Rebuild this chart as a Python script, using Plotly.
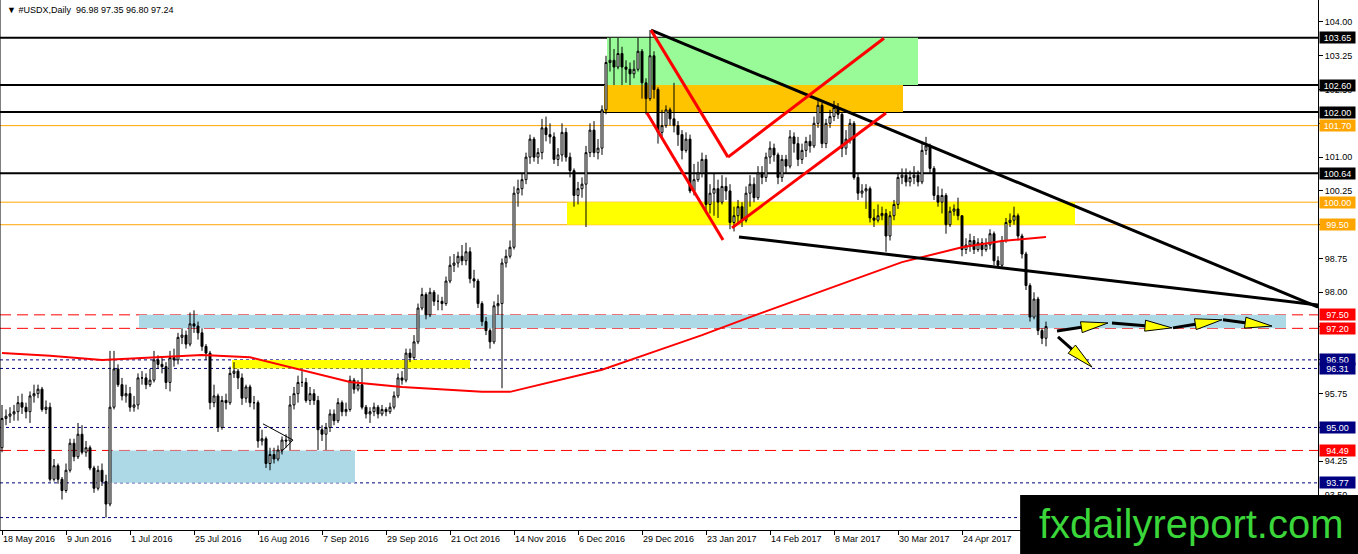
import plotly.graph_objects as go

# daily bars from 18 May 2016; the open of each bar is the previous close
first_open = 94.55
closes = [
    95.20, 95.25, 95.30, 95.35, 95.55, 95.45, 95.35, 95.70, 95.75, 95.85,
    95.40, 95.45, 93.85, 94.15, 93.85, 93.60, 94.05, 94.65, 94.35, 94.85,
    94.45, 94.55, 94.10, 93.65, 94.05, 93.80, 93.30, 95.45, 96.30, 95.95,
    95.70, 95.75, 95.45, 95.50, 96.10, 96.10, 95.95, 96.05, 96.50, 96.40,
    96.35, 96.00, 96.55, 96.50, 97.00, 97.05, 96.85, 97.30, 97.25, 97.10,
    96.80, 96.65, 95.55, 95.70, 95.00, 95.60, 95.55, 96.20, 96.25, 96.10,
    95.65, 95.90, 95.55, 95.55, 94.70, 94.75, 94.20, 94.40, 94.30, 94.50,
    94.72, 94.70, 95.50, 95.75, 96.00, 96.00, 95.60, 95.75, 95.60, 94.95,
    94.85, 95.00, 95.30, 95.15, 95.55, 95.35, 95.40, 96.05, 95.85, 95.95,
    95.45, 95.30, 95.35, 95.45, 95.30, 95.40, 95.35, 95.45, 95.70, 96.10,
    96.05, 96.65, 96.55, 96.90, 97.65, 97.95, 97.50, 98.00, 97.80, 97.80,
    97.75, 98.25, 98.60, 98.65, 98.80, 98.70, 98.90, 98.30, 98.25, 97.75,
    97.35, 97.15, 96.90, 97.70, 97.75, 98.65, 98.80, 99.00, 100.20, 100.30,
    100.50, 101.00, 101.40, 101.00, 101.10, 101.65, 101.50, 101.45, 100.95, 101.05,
    101.55, 101.00, 100.70, 100.15, 100.30, 100.40, 101.10, 101.60, 101.10, 101.20,
    102.05, 103.10, 103.15, 103.00, 103.30, 103.00, 102.95, 102.85, 102.95, 103.35,
    102.65, 102.30, 103.25, 102.50, 101.55, 101.70, 102.05, 101.85, 101.70, 101.50,
    101.15, 101.40, 100.25, 100.50, 100.65, 100.95, 99.95, 100.20, 100.30, 100.00,
    100.35, 100.25, 99.55, 99.70, 99.90, 99.60, 100.20, 100.40, 100.10, 100.65,
    100.55, 101.00, 101.20, 101.05, 100.55, 100.95, 100.80, 101.45, 101.30, 100.95,
    101.15, 101.35, 101.25, 101.75, 102.15, 101.30, 101.75, 101.90, 102.10, 101.95,
    101.20, 101.40, 101.75, 100.55, 100.20, 100.25, 100.30, 99.65, 99.60, 99.70,
    99.75, 99.25, 99.70, 99.95, 100.55, 100.60, 100.45, 100.55, 100.60, 100.45,
    101.15, 101.25, 100.75, 100.15, 100.00, 100.15, 99.50, 99.80, 99.85, 99.70,
    98.95, 99.05, 99.15, 98.95, 99.10, 98.95, 99.05, 99.30, 98.70, 98.60,
    99.15, 99.55, 99.60, 99.70, 99.25, 98.85, 98.15, 97.45, 97.85, 97.15,
    96.98, 97.24,
]
highs = [
    95.50, 95.40, 95.45, 95.50, 95.70, 95.75, 95.55, 95.80, 95.95, 95.95,
    95.90, 95.60, 95.55, 94.30, 94.20, 93.90, 94.20, 94.75, 94.75, 95.10,
    95.05, 94.70, 94.60, 94.15, 94.15, 94.20, 93.95, 96.70, 96.70, 96.40,
    96.10, 95.95, 95.90, 95.70, 96.20, 96.25, 96.20, 96.30, 96.70, 96.60,
    96.55, 96.45, 96.70, 96.75, 97.10, 97.20, 97.15, 97.55, 97.60, 97.35,
    97.20, 96.85, 96.70, 95.95, 95.75, 95.70, 95.75, 96.35, 96.45, 96.30,
    96.20, 95.95, 95.95, 95.70, 95.60, 94.95, 94.80, 94.55, 94.55, 94.60,
    94.80, 94.85, 95.70, 95.90, 96.15, 96.25, 96.10, 95.90, 95.85, 95.70,
    95.05, 95.10, 95.40, 95.40, 95.65, 95.60, 95.55, 96.15, 96.10, 96.05,
    96.30, 95.50, 95.45, 95.55, 95.50, 95.50, 95.45, 95.55, 95.80, 96.20,
    96.25, 96.75, 96.75, 97.05, 97.75, 98.10, 98.00, 98.10, 98.05, 97.95,
    97.90, 98.35, 98.80, 98.85, 98.90, 99.05, 99.10, 99.00, 98.50, 98.30,
    97.80, 97.45, 97.20, 97.80, 97.95, 98.75, 98.95, 99.15, 100.35, 100.50,
    100.65, 101.10, 101.50, 101.45, 101.20, 101.85, 101.90, 101.75, 101.55, 101.20,
    101.75, 101.65, 101.10, 100.75, 100.45, 100.55, 101.25, 101.75, 101.80, 101.40,
    102.15, 103.25, 103.65, 103.40, 103.65, 103.45, 103.15, 103.10, 103.15, 103.65,
    103.40, 102.75, 103.82, 103.35, 102.55, 102.05, 102.15, 102.10, 102.65, 101.80,
    101.60, 101.55, 101.50, 100.85, 100.90, 101.10, 101.05, 100.40, 100.65, 100.50,
    100.60, 100.55, 100.40, 99.90, 100.05, 100.00, 100.35, 100.60, 100.55, 100.80,
    100.80, 101.10, 101.35, 101.30, 101.10, 101.05, 101.05, 101.60, 101.55, 101.45,
    101.30, 101.45, 101.50, 101.90, 102.25, 102.20, 101.85, 102.05, 102.25, 102.20,
    102.00, 101.60, 101.85, 101.80, 100.65, 100.40, 100.40, 100.35, 99.85, 99.95,
    99.90, 99.85, 99.80, 100.05, 100.65, 100.75, 100.75, 100.70, 100.80, 100.70,
    101.30, 101.45, 101.30, 100.80, 100.35, 100.30, 100.20, 99.90, 99.95, 100.10,
    99.70, 99.20, 99.30, 99.25, 99.20, 99.20, 99.20, 99.40, 99.35, 98.80,
    99.25, 99.65, 99.75, 99.90, 99.75, 99.30, 98.90, 98.20, 98.00, 97.90,
    97.20, 97.35,
]
lows = [
    94.45, 95.05, 95.10, 95.15, 95.15, 95.30, 95.20, 95.10, 95.55, 95.65,
    95.35, 95.30, 93.80, 93.80, 93.75, 93.40, 93.55, 94.00, 94.25, 94.30,
    94.40, 94.35, 94.05, 93.55, 93.60, 93.70, 93.00, 93.25, 95.40, 95.90,
    95.60, 95.55, 95.35, 95.35, 95.40, 95.95, 95.85, 95.90, 96.00, 96.30,
    96.20, 95.85, 95.80, 96.35, 96.40, 96.85, 96.75, 96.80, 97.10, 96.95,
    96.70, 96.50, 95.40, 95.45, 94.90, 94.95, 95.40, 95.50, 96.10, 95.85,
    95.50, 95.55, 95.45, 95.40, 94.55, 94.60, 94.10, 94.05, 94.20, 94.25,
    94.40, 94.55, 94.50, 95.40, 95.55, 95.90, 95.55, 95.50, 95.50, 94.50,
    94.70, 94.50, 94.90, 95.05, 95.10, 95.25, 95.25, 95.35, 95.75, 95.80,
    95.40, 95.20, 95.10, 95.25, 95.20, 95.25, 95.25, 95.30, 95.40, 95.65,
    95.95, 96.00, 96.45, 96.50, 96.85, 97.60, 97.40, 97.45, 97.70, 97.60,
    97.60, 97.70, 98.20, 98.45, 98.55, 98.60, 98.60, 98.20, 98.10, 97.65,
    97.25, 97.05, 96.75, 96.85, 97.50, 95.87, 98.55, 98.75, 98.95, 99.90,
    100.15, 100.40, 100.85, 100.90, 100.85, 100.95, 101.35, 101.30, 100.85, 100.80,
    100.90, 100.90, 100.55, 99.90, 99.95, 100.10, 99.45, 101.00, 101.00, 100.95,
    101.05, 101.95, 102.90, 102.60, 102.95, 102.60, 102.65, 102.60, 102.75, 102.90,
    102.30, 101.95, 102.25, 102.30, 101.30, 101.45, 101.65, 101.70, 101.55, 101.25,
    100.95, 101.10, 100.20, 100.15, 100.45, 100.55, 99.80, 99.75, 99.70, 99.65,
    99.95, 100.05, 99.40, 99.35, 99.50, 99.45, 99.55, 99.90, 100.00, 100.05,
    100.40, 100.45, 100.85, 100.90, 100.40, 100.45, 100.65, 100.75, 101.10, 100.80,
    100.85, 101.00, 101.10, 101.20, 101.65, 101.20, 101.20, 101.65, 101.80, 101.85,
    101.00, 101.05, 101.30, 100.50, 100.05, 100.10, 99.85, 99.55, 99.45, 99.55,
    99.60, 98.90, 99.15, 99.60, 99.85, 100.40, 100.35, 100.35, 100.40, 100.35,
    100.40, 101.05, 100.65, 100.05, 99.90, 99.75, 99.30, 99.45, 99.70, 99.60,
    98.80, 98.85, 98.90, 98.85, 98.90, 98.80, 98.90, 98.95, 98.60, 98.55,
    98.55, 99.10, 99.45, 99.50, 99.15, 98.75, 98.05, 97.35, 97.40, 97.05,
    96.85, 96.80,
]
opens = [first_open] + closes[:-1]
bars = list(range(len(closes)))

# date labels, one every 16 bars
date_labels = [
    "18 May 2016", "9 Jun 2016", "1 Jul 2016", "25 Jul 2016", "16 Aug 2016",
    "7 Sep 2016", "29 Sep 2016", "21 Oct 2016", "14 Nov 2016", "6 Dec 2016",
    "29 Dec 2016", "23 Jan 2017", "14 Feb 2017", "8 Mar 2017", "30 Mar 2017",
    "24 Apr 2017",
]
label_bars = list(range(0, 16 * len(date_labels), 16))

# price scale ticks
price_ticks = [93.50, 94.25, 95.00, 95.75, 96.50, 97.25, 98.00, 98.75,
               99.50, 100.25, 101.00, 101.75, 102.50, 103.25, 104.00]

# 200-day moving average
ma_bars = [0, 12, 25, 37, 50, 62, 75, 87, 100, 112, 120, 127, 137, 150,
           162, 175, 187, 200, 212, 225, 240, 250, 261]
ma_values = [96.65, 96.59, 96.50, 96.56, 96.61, 96.56, 96.28, 96.01, 95.90,
             95.83, 95.79, 95.79, 96.01, 96.28, 96.65, 97.05, 97.45, 97.87,
             98.25, 98.67, 99.00, 99.14, 99.23]

# horizontal levels
black_levels = [103.65, 102.60, 102.00, 100.64]
orange_levels = [101.70, 100.00, 99.50]
red_levels = [97.50, 97.20, 94.49]
navy_levels = [96.50, 96.31, 95.00, 93.77]
bottom_level = 93.00

# zones: bar from, bar to, price low, price high
green_zone = [151.25, 229.0, 102.60, 103.65]
gold_zone = [150.5, 225.25, 102.00, 102.60]
yellow_zone = [141.25, 268.25, 99.50, 100.00]
yellow_zone_small = [57.5, 117.0, 96.31, 96.50]
blue_zone = [34.25, 321.0, 97.20, 97.50]
blue_zone_low = [26.5, 88.25, 93.77, 94.49]

# drawn lines: bar, price, bar, price
black_trends = [
    [162.25, 103.82, 329.0, 97.67],
    [184.25, 99.23, 329.0, 97.72],
]
red_trends = [
    [162.25, 103.82, 181.5, 101.00],
    [181.5, 101.00, 220.5, 103.64],
    [161.25, 101.98, 180.25, 99.16],
    [182.5, 99.43, 221.0, 101.98],
]
small_triangle = [
    [65.25, 95.08, 72.75, 94.72],
    [69.75, 94.45, 72.75, 94.72],
]
arrows = [
    [263.75, 97.14, 276.5, 97.32],
    [277.5, 97.32, 292.5, 97.21],
    [292.75, 97.21, 305.0, 97.39],
    [305.25, 97.39, 317.5, 97.25],
    [264.0, 97.01, 272.5, 96.34],
]

PX_PER_BAR = 4.0
PX_PER_PRICE = 45.05
FONT = "Liberation Sans, DejaVu Sans, Arial"

fig = go.Figure()
fig.add_trace(
    go.Candlestick(
        x=bars,
        open=opens,
        high=highs,
        low=lows,
        close=closes,
        increasing={"line": {"color": "black", "width": 1}, "fillcolor": "white"},
        decreasing={"line": {"color": "black", "width": 1}, "fillcolor": "black"},
        whiskerwidth=0,
        showlegend=False,
        hoverinfo="skip",
    )
)
fig.add_trace(
    go.Scatter(
        x=ma_bars, y=ma_values, mode="lines",
        line={"color": "#FF0000", "width": 2},
        showlegend=False, hoverinfo="skip",
    )
)

shapes = []


def zone(z, color):
    shapes.append(dict(type="rect", layer="below", x0=z[0], x1=z[1], y0=z[2], y1=z[3],
                       fillcolor=color, line={"width": 0}))


zone(green_zone, "#98FB98")
zone(gold_zone, "#FFC400")
zone(yellow_zone, "#FFFF00")
zone(yellow_zone_small, "#FFFF00")
zone(blue_zone, "#ADD8E6")
zone(blue_zone_low, "#ADD8E6")

level_styles = [
    (black_levels, "#000000", {"color": "#000000", "width": 2}),
    (orange_levels, "#FFA500", {"color": "#FFA500", "width": 1}),
    (red_levels, "#FF0000", {"color": "#FF0000", "width": 1, "dash": "11px,6px"}),
    (navy_levels, "#000080", {"color": "#000080", "width": 1, "dash": "3px,3px"}),
]
annotations = []
for levels, bg, line in level_styles:
    for p in levels:
        shapes.append(dict(type="line", layer="below", xref="paper", x0=0, x1=1, y0=p, y1=p, line=line))
        annotations.append(dict(
            xref="paper", x=1, xanchor="left", xshift=1, y=p, yref="y", yanchor="middle",
            text=f"{p:.2f}", showarrow=False, bgcolor=bg, width=35, height=11, borderpad=0,
            font={"family": FONT, "size": 9, "color": "white"},
        ))
shapes.append(dict(type="line", layer="below", xref="paper", x0=0, x1=1, y0=bottom_level, y1=bottom_level,
                   line={"color": "#000080", "width": 1, "dash": "3px,3px"}))

for t in black_trends:
    shapes.append(dict(type="line", x0=t[0], y0=t[1], x1=t[2], y1=t[3], line={"color": "black", "width": 3}))
for t in red_trends:
    shapes.append(dict(type="line", x0=t[0], y0=t[1], x1=t[2], y1=t[3], line={"color": "#FF0000", "width": 3}))
for t in small_triangle:
    shapes.append(dict(type="line", x0=t[0], y0=t[1], x1=t[2], y1=t[3], line={"color": "black", "width": 1}))

# arrows: black shaft with a yellow head outlined in black
for a in arrows:
    dx = (a[2] - a[0]) * PX_PER_BAR
    dy = (a[3] - a[1]) * PX_PER_PRICE
    n = (dx ** 2 + dy ** 2) ** 0.5
    ux, uy = dx / n, dy / n
    head, half = 27, 5.5
    bx = a[2] - ux * head / PX_PER_BAR
    by = a[3] - uy * head / PX_PER_PRICE
    p1 = (bx - uy * half / PX_PER_BAR, by + ux * half / PX_PER_PRICE)
    p2 = (bx + uy * half / PX_PER_BAR, by - ux * half / PX_PER_PRICE)
    shapes.append(dict(type="line", x0=a[0], y0=a[1], x1=bx, y1=by, line={"color": "black", "width": 3}))
    shapes.append(dict(type="path", path=f"M {a[2]},{a[3]} L {p1[0]},{p1[1]} L {p2[0]},{p2[1]} Z",
                       fillcolor="#FFFF00", line={"color": "black", "width": 1}))

# left frame
shapes.append(dict(type="line", xref="paper", yref="paper", x0=0, x1=0, y0=0, y1=1,
                   line={"color": "black", "width": 1}))
# watermark box
shapes.append(dict(type="rect", xref="paper", yref="paper", x0=0.774, x1=1.05, y0=-0.06, y1=0.066,
                   fillcolor="black", line={"width": 0}, layer="above"))
annotations.append(dict(
    xref="paper", yref="paper", x=0.904, y=0.012, xanchor="center", yanchor="middle",
    text="fxdailyreport.com", showarrow=False,
    font={"family": "Liberation Sans, Arial", "size": 40, "color": "#3AD63A"},
))
annotations.append(dict(
    xref="paper", yref="paper", x=0, y=1, xshift=5, yshift=-3, xanchor="left", yanchor="top",
    text=f"\u25bc #USDX,Daily  {opens[-1]:.2f} {highs[-1]:.2f} {lows[-1]:.2f} {closes[-1]:.2f}",
    showarrow=False, font={"family": FONT, "size": 9, "color": "black"},
))

fig.update_layout(
    width=1358,
    height=554,
    margin={"l": 0, "r": 40, "t": 0, "b": 24},
    paper_bgcolor="white",
    plot_bgcolor="white",
    showlegend=False,
    shapes=shapes,
    annotations=annotations,
    xaxis={
        "range": [-0.5, 329],
        "automargin": False,
        "rangeslider": {"visible": False},
        "showgrid": False,
        "zeroline": False,
        "showline": True,
        "linecolor": "black",
        "linewidth": 1,
        "ticks": "outside",
        "ticklen": 4,
        "tickcolor": "black",
        "tickvals": label_bars,
        "ticktext": date_labels,
        "ticklabelposition": "outside right",
        "tickfont": {"family": FONT, "size": 9, "color": "black"},
    },
    yaxis={
        "side": "right",
        "automargin": False,
        "range": [92.724, 104.488],
        "tickvals": price_ticks,
        "tickformat": ".2f",
        "showgrid": False,
        "zeroline": False,
        "showline": True,
        "linecolor": "black",
        "linewidth": 1,
        "ticks": "outside",
        "ticklen": 4,
        "tickcolor": "black",
        "tickfont": {"family": FONT, "size": 9, "color": "black"},
    },
)

# the page body has a default 8px margin; drop it so the chart sits at the corner
fig.write_html(
    "out.html",
    config={"displayModeBar": False},
    post_script="document.body.style.margin='0';document.body.style.overflow='hidden';",
)
